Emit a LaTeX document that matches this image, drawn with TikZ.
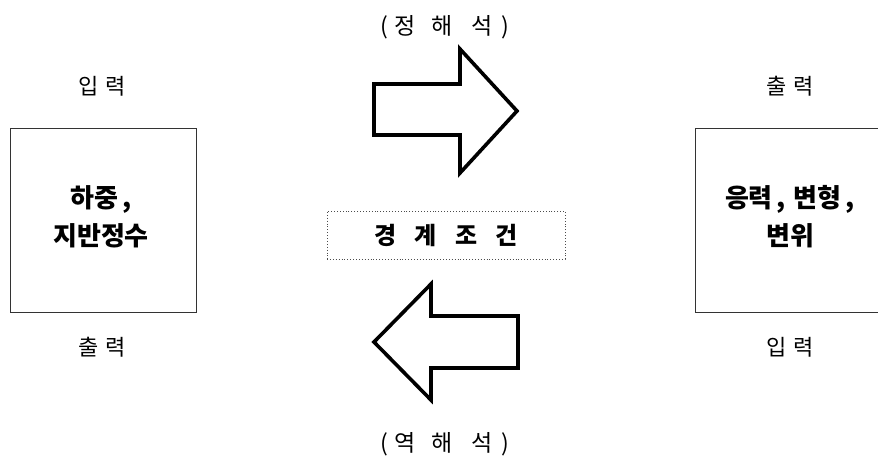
\documentclass[tikz,border=0pt]{standalone}
\usepackage{fontspec}
\newfontfamily\kr{Noto Sans CJK KR}
\begin{document}
\begin{tikzpicture}[x=1pt,y=-1pt,
  lbl/.style={font=\kr\fontsize{22}{26}\selectfont, inner sep=0pt},
  paren/.style={font=\kr\fontsize{23}{26}\selectfont, inner sep=0pt},
  boxtext/.style={font=\kr\bfseries\fontsize{26}{38}\selectfont, align=center, inner sep=0pt},
  bigarrow/.style={draw=black, line width=3.6pt, fill=white, line join=miter},
  mainbox/.style={draw=black!80, line width=0.8pt}]
\useasboundingbox (0,0) rectangle (878,458);
\clip (0,0) rectangle (878,458);
% boxes
\draw[mainbox] (10,128) rectangle (196,312);
\draw[mainbox] (695,128) rectangle (890,312);
\node[boxtext] (lt) at (101,217) {하중\hspace{4pt},\\지반정수};
\node[boxtext] (rt) at (790,217) {응력\hspace{4pt},\hspace{8pt}변형\hspace{4pt},\\변위};
% labels
\node[lbl] (lin) at (102,86) {입\hspace{7pt}력};
\node[lbl] (lout) at (102,347) {출\hspace{7pt}력};
\node[lbl] (rout) at (790,86) {출\hspace{7pt}력};
\node[lbl] (rin) at (790,347) {입\hspace{7pt}력};
\node[paren] (fwd) at (445,27) {(\hspace{6pt}정\hspace{16pt}해\hspace{19pt}석\hspace{9pt})};
\node[paren] (inv) at (445,444) {(\hspace{6pt}역\hspace{16pt}해\hspace{19pt}석\hspace{9pt})};
% middle box
\node[draw=black!70, dotted, line width=0.9pt, minimum width=238pt, minimum height=48pt,
  font=\kr\bfseries\fontsize{24}{26}\selectfont] (bc) at (446,235) {경\hspace{18pt}계\hspace{18pt}조\hspace{18pt}건};
% arrows
\draw[bigarrow] (374,84) -- (460,84) -- (460,49) -- (517,111) -- (460,173) -- (460,135) -- (374,135) -- cycle;
\draw[bigarrow] (518,316) -- (431,316) -- (431,284) -- (374,342) -- (431,400) -- (431,368) -- (518,368) -- cycle;
\end{tikzpicture}
\end{document}
